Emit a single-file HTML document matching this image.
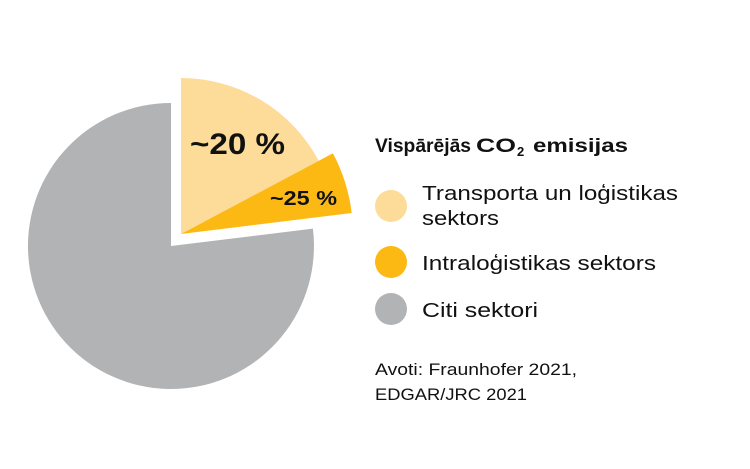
<!DOCTYPE html>
<html><head><meta charset="utf-8"><style>
body{margin:0;background:#fff;}
svg{display:block;font-family:"Liberation Sans","DejaVu Sans",sans-serif;}
</style></head><body>
<svg width="750" height="469" viewBox="0 0 750 469">
<path d="M171,246 L312.9,228.6 A143,143 0 1 1 171,103 Z" fill="#b1b3b5"/>
<path d="M181,234 L181,78 A156,156 0 0 1 318.7,160.8 Z" fill="#fddc9a"/>
<path d="M181,234 L332.9,153.3 A172,172 0 0 1 351.7,213 Z" fill="#fdb913"/>
<text x="190" y="154" font-size="30" font-weight="bold" fill="#111" textLength="95" lengthAdjust="spacingAndGlyphs">~20 %</text>
<text x="270" y="205" font-size="20" font-weight="bold" fill="#111" textLength="67" lengthAdjust="spacingAndGlyphs">~25 %</text>
<text x="375" y="152" font-size="19" font-weight="bold" fill="#111"><tspan textLength="96" lengthAdjust="spacingAndGlyphs">Vispārējās</tspan><tspan x="476" textLength="40" lengthAdjust="spacingAndGlyphs">CO</tspan><tspan font-size="13" dy="4" x="517">2</tspan><tspan dy="-4" x="533" textLength="95" lengthAdjust="spacingAndGlyphs">emisijas</tspan></text>
<circle cx="391" cy="206" r="16" fill="#fddc9a"/>
<circle cx="391" cy="262" r="16" fill="#fdb913"/>
<circle cx="391" cy="309" r="16" fill="#b1b3b5"/>
<g font-size="20.5" fill="#111">
<text x="422" y="200" textLength="256" lengthAdjust="spacingAndGlyphs">Transporta un loģistikas</text>
<text x="422" y="225" textLength="77" lengthAdjust="spacingAndGlyphs">sektors</text>
<text x="422" y="270" textLength="234" lengthAdjust="spacingAndGlyphs">Intraloģistikas sektors</text>
<text x="422" y="317" textLength="116" lengthAdjust="spacingAndGlyphs">Citi sektori</text>
</g>
<g font-size="16.5" fill="#111">
<text x="375" y="375" textLength="202" lengthAdjust="spacingAndGlyphs">Avoti: Fraunhofer 2021,</text>
<text x="375" y="400" textLength="152" lengthAdjust="spacingAndGlyphs">EDGAR/JRC 2021</text>
</g>
</svg>
</body></html>
